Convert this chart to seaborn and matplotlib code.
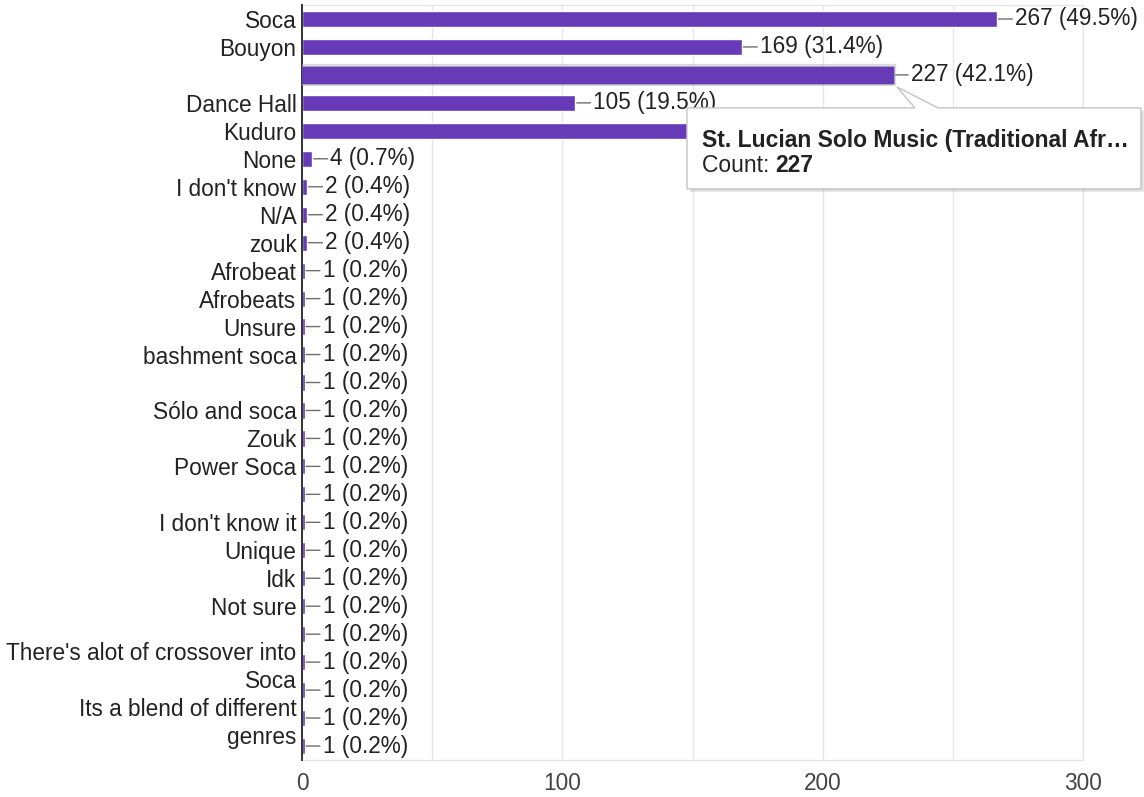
import matplotlib
matplotlib.use("Agg")
import matplotlib.pyplot as plt
import matplotlib.patheffects as pe
import matplotlib.transforms as mtransforms
from matplotlib.patches import Polygon
import pandas as pd
import seaborn as sns

# Responses per genre (539 respondents in total)
labels = [
    "Soca", "Bouyon", "", "Dance Hall", "Kuduro", "None", "I don't know",
    "N/A", "zouk", "Afrobeat", "Afrobeats", "Unsure", "bashment soca", "",
    "Sólo and soca", "Zouk", "Power Soca", "", "I don't know it", "Unique",
    "Idk", "Not sure", "", "There's alot of crossover into\nSoca", "",
    "Its a blend of different\ngenres", "",
]
counts = [267, 169, 227, 105, 160, 4, 2, 2, 2, 1, 1, 1, 1, 1,
          1, 1, 1, 1, 1, 1, 1, 1, 1, 1, 1, 1, 1]
percents = ["49.5%", "31.4%", "42.1%", "19.5%", "29.7%", "0.7%", "0.4%",
            "0.4%", "0.4%", "0.2%", "0.2%", "0.2%", "0.2%", "0.2%",
            "0.2%", "0.2%", "0.2%", "0.2%", "0.2%", "0.2%", "0.2%", "0.2%",
            "0.2%", "0.2%", "0.2%", "0.2%", "0.2%"]
x_ticks = [0, 50, 100, 150, 200, 250, 300]
x_tick_labels = ["0", "", "100", "", "200", "", "300"]

# Hovered bar and its tooltip
hover_index = 2
hover_title = "St. Lucian Solo Music (Traditional Afr\u2026"

PURPLE = "#673ab7"
FS = 16.3

sns.set_style("white")
plt.rcParams["font.family"] = ["Liberation Sans", "DejaVu Sans"]

df = pd.DataFrame({"row": list(range(len(counts))), "count": counts})

fig = plt.figure(figsize=(11.44, 7.97), dpi=100)
ax = fig.add_axes([302 / 1144, 1 - 760 / 797, (1083 - 302) / 1144, (760 - 5) / 797])

sns.barplot(data=df, x="count", y="row", orient="h", color=PURPLE,
            width=0.58, saturation=1, ax=ax, zorder=3)

ax.set_xlim(0, 300)
ax.set_ylim(len(counts) - 0.5, -0.5)
ax.set_xlabel("")
ax.set_ylabel("")

# Axis ticks and grid
ax.set_xticks(x_ticks)
ax.set_xticklabels(x_tick_labels, fontsize=FS, color="#444444")
ax.set_yticks(range(len(labels)))
ax.set_yticklabels(labels, fontsize=FS, color="#222222")
for t in ax.get_yticklabels():
    t.set_linespacing(1.3)
ax.tick_params(axis="x", length=0, pad=9)
ax.tick_params(axis="y", length=0, pad=4)
ax.grid(axis="x", color="#e6e6e6", linewidth=1, zorder=0)
ax.set_axisbelow(True)
for side in ["top", "right", "bottom"]:
    ax.spines[side].set_color("#e6e6e6")
    ax.spines[side].set_linewidth(1)
ax.spines["left"].set_color("#333333")
ax.spines["left"].set_linewidth(1.4)
ax.spines["left"].set_zorder(4)

# Value labels with short leader lines
for i, (c, p) in enumerate(zip(counts, percents)):
    ax.annotate("", xy=(c, i), xytext=(11, 0), textcoords="offset points",
                arrowprops=dict(arrowstyle="-", color="#6e6e6e", lw=1,
                                shrinkA=0, shrinkB=1),
                zorder=4)
    ax.annotate(f"{c} ({p})", xy=(c, i), xytext=(13, 0),
                textcoords="offset points", ha="left", va="center",
                fontsize=FS, color="#222222", zorder=4, annotation_clip=False)

# Hover highlight on the selected bar: soft grey glow around it
hover_bar = ax.patches[hover_index]
hover_bar.set_path_effects([
    pe.Stroke(linewidth=4.5, foreground="#b0b0b0", alpha=0.45),
    pe.Stroke(linewidth=2, foreground="#a0a0a0", alpha=0.6),
    pe.Normal(),
])
hover_bar.set_edgecolor(PURPLE)
hover_bar.set_zorder(5)

# Tooltip, laid out in pixels relative to the end of the hovered bar
anchor = mtransforms.ScaledTranslation(counts[hover_index], hover_index, ax.transData)
tip_tr = mtransforms.Affine2D().scale(1, -1) + anchor
tip = Polygon([(-206, 33), (22, 33), (4, 12), (45, 33), (248, 33),
               (248, 114), (-206, 114)], closed=True, transform=tip_tr,
              facecolor="white", edgecolor="#c4c4c4", linewidth=1,
              zorder=10, clip_on=False)
tip.set_path_effects([pe.SimplePatchShadow(offset=(2, -2), alpha=0.18),
                      pe.Normal()])
ax.add_patch(tip)
ax.text(-191, 66, hover_title, transform=tip_tr, ha="left", va="center",
        fontsize=FS + 0.2, fontweight="bold", color="#222222", zorder=11,
        clip_on=False)
t_count = ax.text(-191, 91, "Count: ", transform=tip_tr, ha="left",
                  va="center", fontsize=FS + 0.2, color="#222222",
                  zorder=11, clip_on=False)
ax.annotate(f"{counts[hover_index]}", xy=(1, 0), xycoords=t_count,
            ha="left", va="bottom", fontsize=FS + 0.2, fontweight="bold",
            color="#222222", zorder=11, annotation_clip=False)

fig.savefig("out.png", dpi=100, facecolor="white")
